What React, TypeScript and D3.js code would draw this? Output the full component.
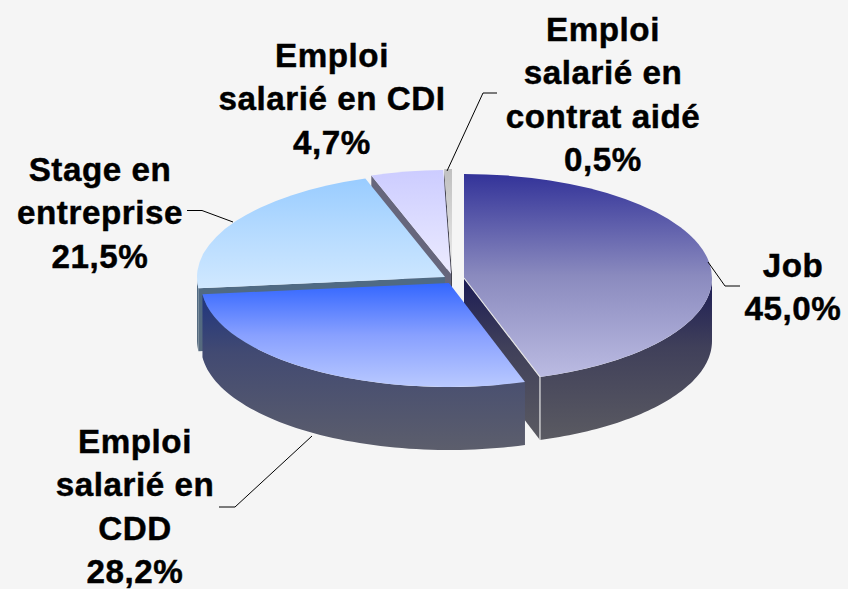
import React from "react";
import * as d3 from "d3";

const categories = ["Job", "Emploi salarié en CDD", "Stage en entreprise", "Emploi salarié en CDI", "Emploi salarié en contrat aidé"];
const shares = [45.0, 28.2, 21.5, 4.7, 0.5];
const shareLabels = ["45,0%", "28,2%", "21,5%", "4,7%", "0,5%"];
const labelLines = [
  ["Job"],
  ["Emploi", "salarié en", "CDD"],
  ["Stage en", "entreprise"],
  ["Emploi", "salarié en CDI"],
  ["Emploi", "salarié en", "contrat aidé"],
];

// layout (exploded centre of every slice, label anchors, leader polylines)
const W = 848, H = 589;
const RX = 248, RY = 104, DEPTH = 63;
const centers = [[464, 278], [449, 283], [445, 277], [451, 274], [452, 273]];
const labelPos = [[793, 265], [135, 441], [100, 169], [332, 55], [603, 29]];
const LINE = 43.4;
const leaders = [
  [[708, 262], [725, 286], [740, 286]],
  [[312, 436], [235, 507], [219, 507]],
  [[233, 222], [202, 210.5], [187, 210.5]],
  [],
  [[447, 171], [483, 93], [497, 93]],
];
const topStops = [
  ["#333399", "#8a8abe", "#bbbbe2"],
  ["#3366ff", "#88a0ff", "#b9c9ff"],
  ["#99ccff", "#b6dbff", "#d0e8ff"],
  ["#ccccff", "#dcdcff", "#ecebff"],
  ["#c0c0c0", "#d6d6d6", "#ececec"],
];
const sideStops = [
  ["#1e1e55", "#40405a", "#5c5c62"],
  ["#1a3280", "#424a72", "#5c5e6c"],
  ["#4f6a84", "#566a7e", "#5e6a78"],
  ["#66667c", "#6a6a7b", "#6e6e7a"],
  ["#444450", "#555560", "#666670"],
];
const drawOrder = [4, 3, 2, 0, 1];

const pie = d3.pie<number>().sort(null).value((d) => d);
const arcs = pie(shares);
const topArc = d3.arc<d3.PieArcDatum<number>>().innerRadius(0).outerRadius(RX);
const poly = d3.line<number[]>().x((d) => d[0]).y((d) => d[1]);

const px = (c: number[], a: number) => [c[0] + RX * Math.sin(a), c[1] - RY * Math.cos(a)];

function outerWall(c: number[], a0: number, a1: number) {
  const from = Math.max(a0, Math.PI / 2);
  const to = Math.min(a1, (3 * Math.PI) / 2);
  if (to <= from) return null;
  const angles = d3.range(0, 61).map((i) => from + ((to - from) * i) / 60);
  const upper = angles.map((a) => px(c, a));
  const lower = angles.slice().reverse().map((a) => {
    const p = px(c, a);
    return [p[0], p[1] + DEPTH];
  });
  return poly([...upper, ...lower]) + "Z";
}

function cutWall(c: number[], a: number) {
  const p = px(c, a);
  return poly([c, p, [p[0], p[1] + DEPTH], [c[0], c[1] + DEPTH]]) + "Z";
}

export default function App() {
  return (
    <svg width={W} height={H} viewBox={`0 0 ${W} ${H}`} style={{ position: "absolute", left: 0, top: 0, background: "#f5f5f5" }}>
      <defs>
        {arcs.map((_, i) => (
          <React.Fragment key={i}>
            <linearGradient id={`top${i}`} x1="0" y1="0" x2="0" y2="1">
              <stop offset="0" stopColor={topStops[i][0]} />
              <stop offset="0.5" stopColor={topStops[i][1]} />
              <stop offset="1" stopColor={topStops[i][2]} />
            </linearGradient>
            <linearGradient id={`side${i}`} gradientUnits="userSpaceOnUse" x1="0" x2="0" y1={centers[i][1] + 5} y2={centers[i][1] + RY + DEPTH}>
              <stop offset="0" stopColor={sideStops[i][0]} />
              <stop offset="0.4" stopColor={sideStops[i][1]} />
              <stop offset="1" stopColor={sideStops[i][2]} />
            </linearGradient>
          </React.Fragment>
        ))}
      </defs>
      {drawOrder.map((i) => {
        const d = arcs[i];
        const c = centers[i];
        const wall = outerWall(c, d.startAngle, d.endAngle);
        const showStart = Math.sin(d.startAngle) < -1e-6;
        const showEnd = Math.sin(d.endAngle) > 1e-6;
        const tip = px(c, d.endAngle);
        return (
          <g key={i}>
            {showStart && <path d={cutWall(c, d.startAngle)} fill={`url(#side${i})`} />}
            {showEnd && <path d={cutWall(c, d.endAngle)} fill={`url(#side${i})`} />}
            {wall && <path d={wall} fill={`url(#side${i})`} />}
            <path
              d={topArc(d) as string}
              transform={`translate(${c[0]},${c[1]}) scale(1,${RY / RX})`}
              fill={`url(#top${i})`}
            />
            {showEnd && (
              <path
                d={poly([c, tip, [tip[0], tip[1] + DEPTH]]) as string}
                fill="none"
                stroke="#e4e4e4"
                strokeWidth={1.2}
              />
            )}
          </g>
        );
      })}
      {leaders.map((l, i) =>
        l.length ? <path key={i} d={poly(l) as string} fill="none" stroke="#000" strokeWidth={1} /> : null
      )}
      {categories.map((name, i) => (
        <text
          key={name}
          textAnchor="middle"
          dominantBaseline="central"
          fontFamily="'Liberation Sans', Arial, sans-serif"
          fontWeight="bold"
          fontSize={33.2}
          letterSpacing={0.55}
          stroke="#000"
          strokeWidth={0.45}
          fill="#000"
        >
          {[...labelLines[i], shareLabels[i]].map((t, j) => (
            <tspan key={j} x={labelPos[i][0]} y={labelPos[i][1] + j * LINE}>
              {t}
            </tspan>
          ))}
        </text>
      ))}
    </svg>
  );
}
